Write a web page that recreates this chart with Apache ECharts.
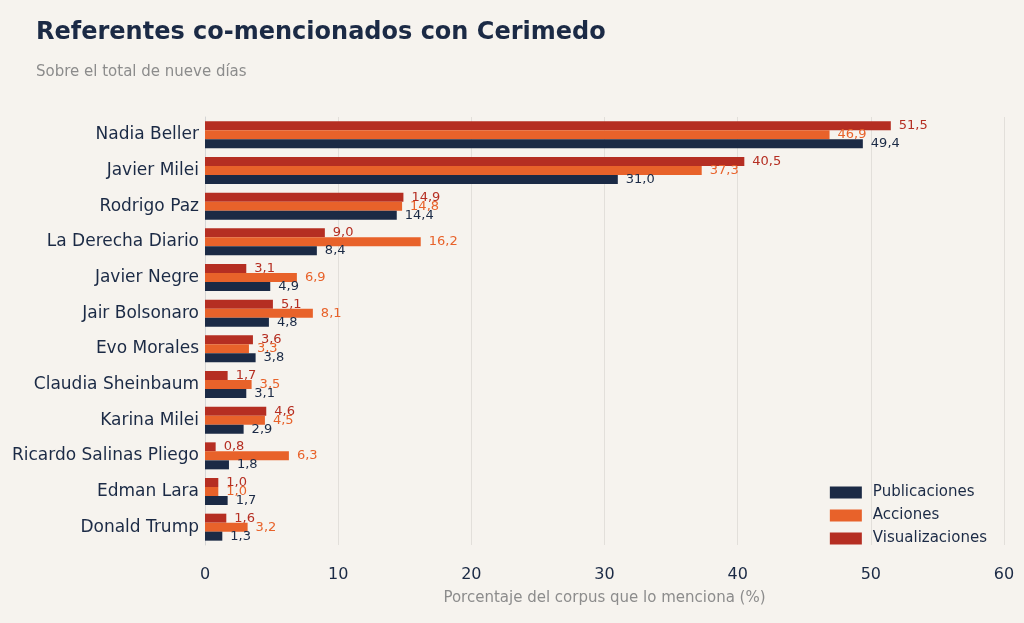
<!DOCTYPE html>
<html><head><meta charset="utf-8">
<script src="https://cdn.jsdelivr.net/npm/echarts@6/dist/echarts.min.js"></script>
<style>html,body{margin:0;background:#f6f3ee}#c{width:1024px;height:623px}</style>
</head><body><div id="c"></div>
<script>
const categories=["Nadia Beller","Javier Milei","Rodrigo Paz","La Derecha Diario","Javier Negre","Jair Bolsonaro","Evo Morales","Claudia Sheinbaum","Karina Milei","Ricardo Salinas Pliego","Edman Lara","Donald Trump"];
const publicaciones=[49.4,31.0,14.4,8.4,4.9,4.8,3.8,3.1,2.9,1.8,1.7,1.3];
const acciones=[46.9,37.3,14.8,16.2,6.9,8.1,3.3,3.5,4.5,6.3,1.0,3.2];
const visualizaciones=[51.5,40.5,14.9,9.0,3.1,5.1,3.6,1.7,4.6,0.8,1.0,1.6];
const xTicks=[0,10,20,30,40,50,60];
const C={p:'#1b2a45',a:'#e8622a',v:'#b52e22'};
function s(name,data,color){return {name,type:'bar',data,barWidth:9,barGap:'0%',itemStyle:{color},
 label:{show:true,position:'right',distance:8,color:color,fontSize:13,fontFamily:'DejaVu Sans',
 formatter:p=>p.value.toFixed(1).replace('.',',')}};}
const chart=echarts.init(document.getElementById('c'));
chart.setOption({
 backgroundColor:'#f6f3ee',
 textStyle:{fontFamily:'DejaVu Sans'},
 title:{text:'Referentes co-mencionados con Cerimedo',subtext:'Sobre el total de nueve días',left:31,top:16,itemGap:20,
  textStyle:{fontSize:24,fontWeight:'bold',color:'#1b2a45',fontFamily:'DejaVu Sans'},
  subtextStyle:{fontSize:15,color:'#8c8c8c',fontFamily:'DejaVu Sans'}},
 legend:{data:['Publicaciones','Acciones','Visualizaciones'],orient:'vertical',right:32,top:480,itemWidth:32,itemHeight:12,itemGap:8,
  icon:'rect',textStyle:{fontSize:15,color:'#1b2a45',padding:[0,0,0,6]}},
 grid:{left:205,right:20,top:117,bottom:78},
 xAxis:{type:'value',min:0,max:60,interval:10,name:'Porcentaje del corpus que lo menciona (%)',nameLocation:'middle',nameGap:46,
  nameTextStyle:{fontSize:15,color:'#8c8c8c'},
  axisLabel:{fontSize:16,color:'#1b2a45',margin:22,formatter:v=>xTicks.includes(v)?String(v):''},
  axisLine:{show:false},axisTick:{show:false},
  splitLine:{lineStyle:{color:'#e2dfda'}}},
 yAxis:{type:'category',data:categories,inverse:true,
  axisLabel:{fontSize:17,color:'#1b2a45',margin:6},
  axisLine:{lineStyle:{color:'#d5d5d5'}},axisTick:{show:false}},
 series:[s('Visualizaciones',visualizaciones,C.v),s('Acciones',acciones,C.a),s('Publicaciones',publicaciones,C.p)]
});
</script></body></html>
